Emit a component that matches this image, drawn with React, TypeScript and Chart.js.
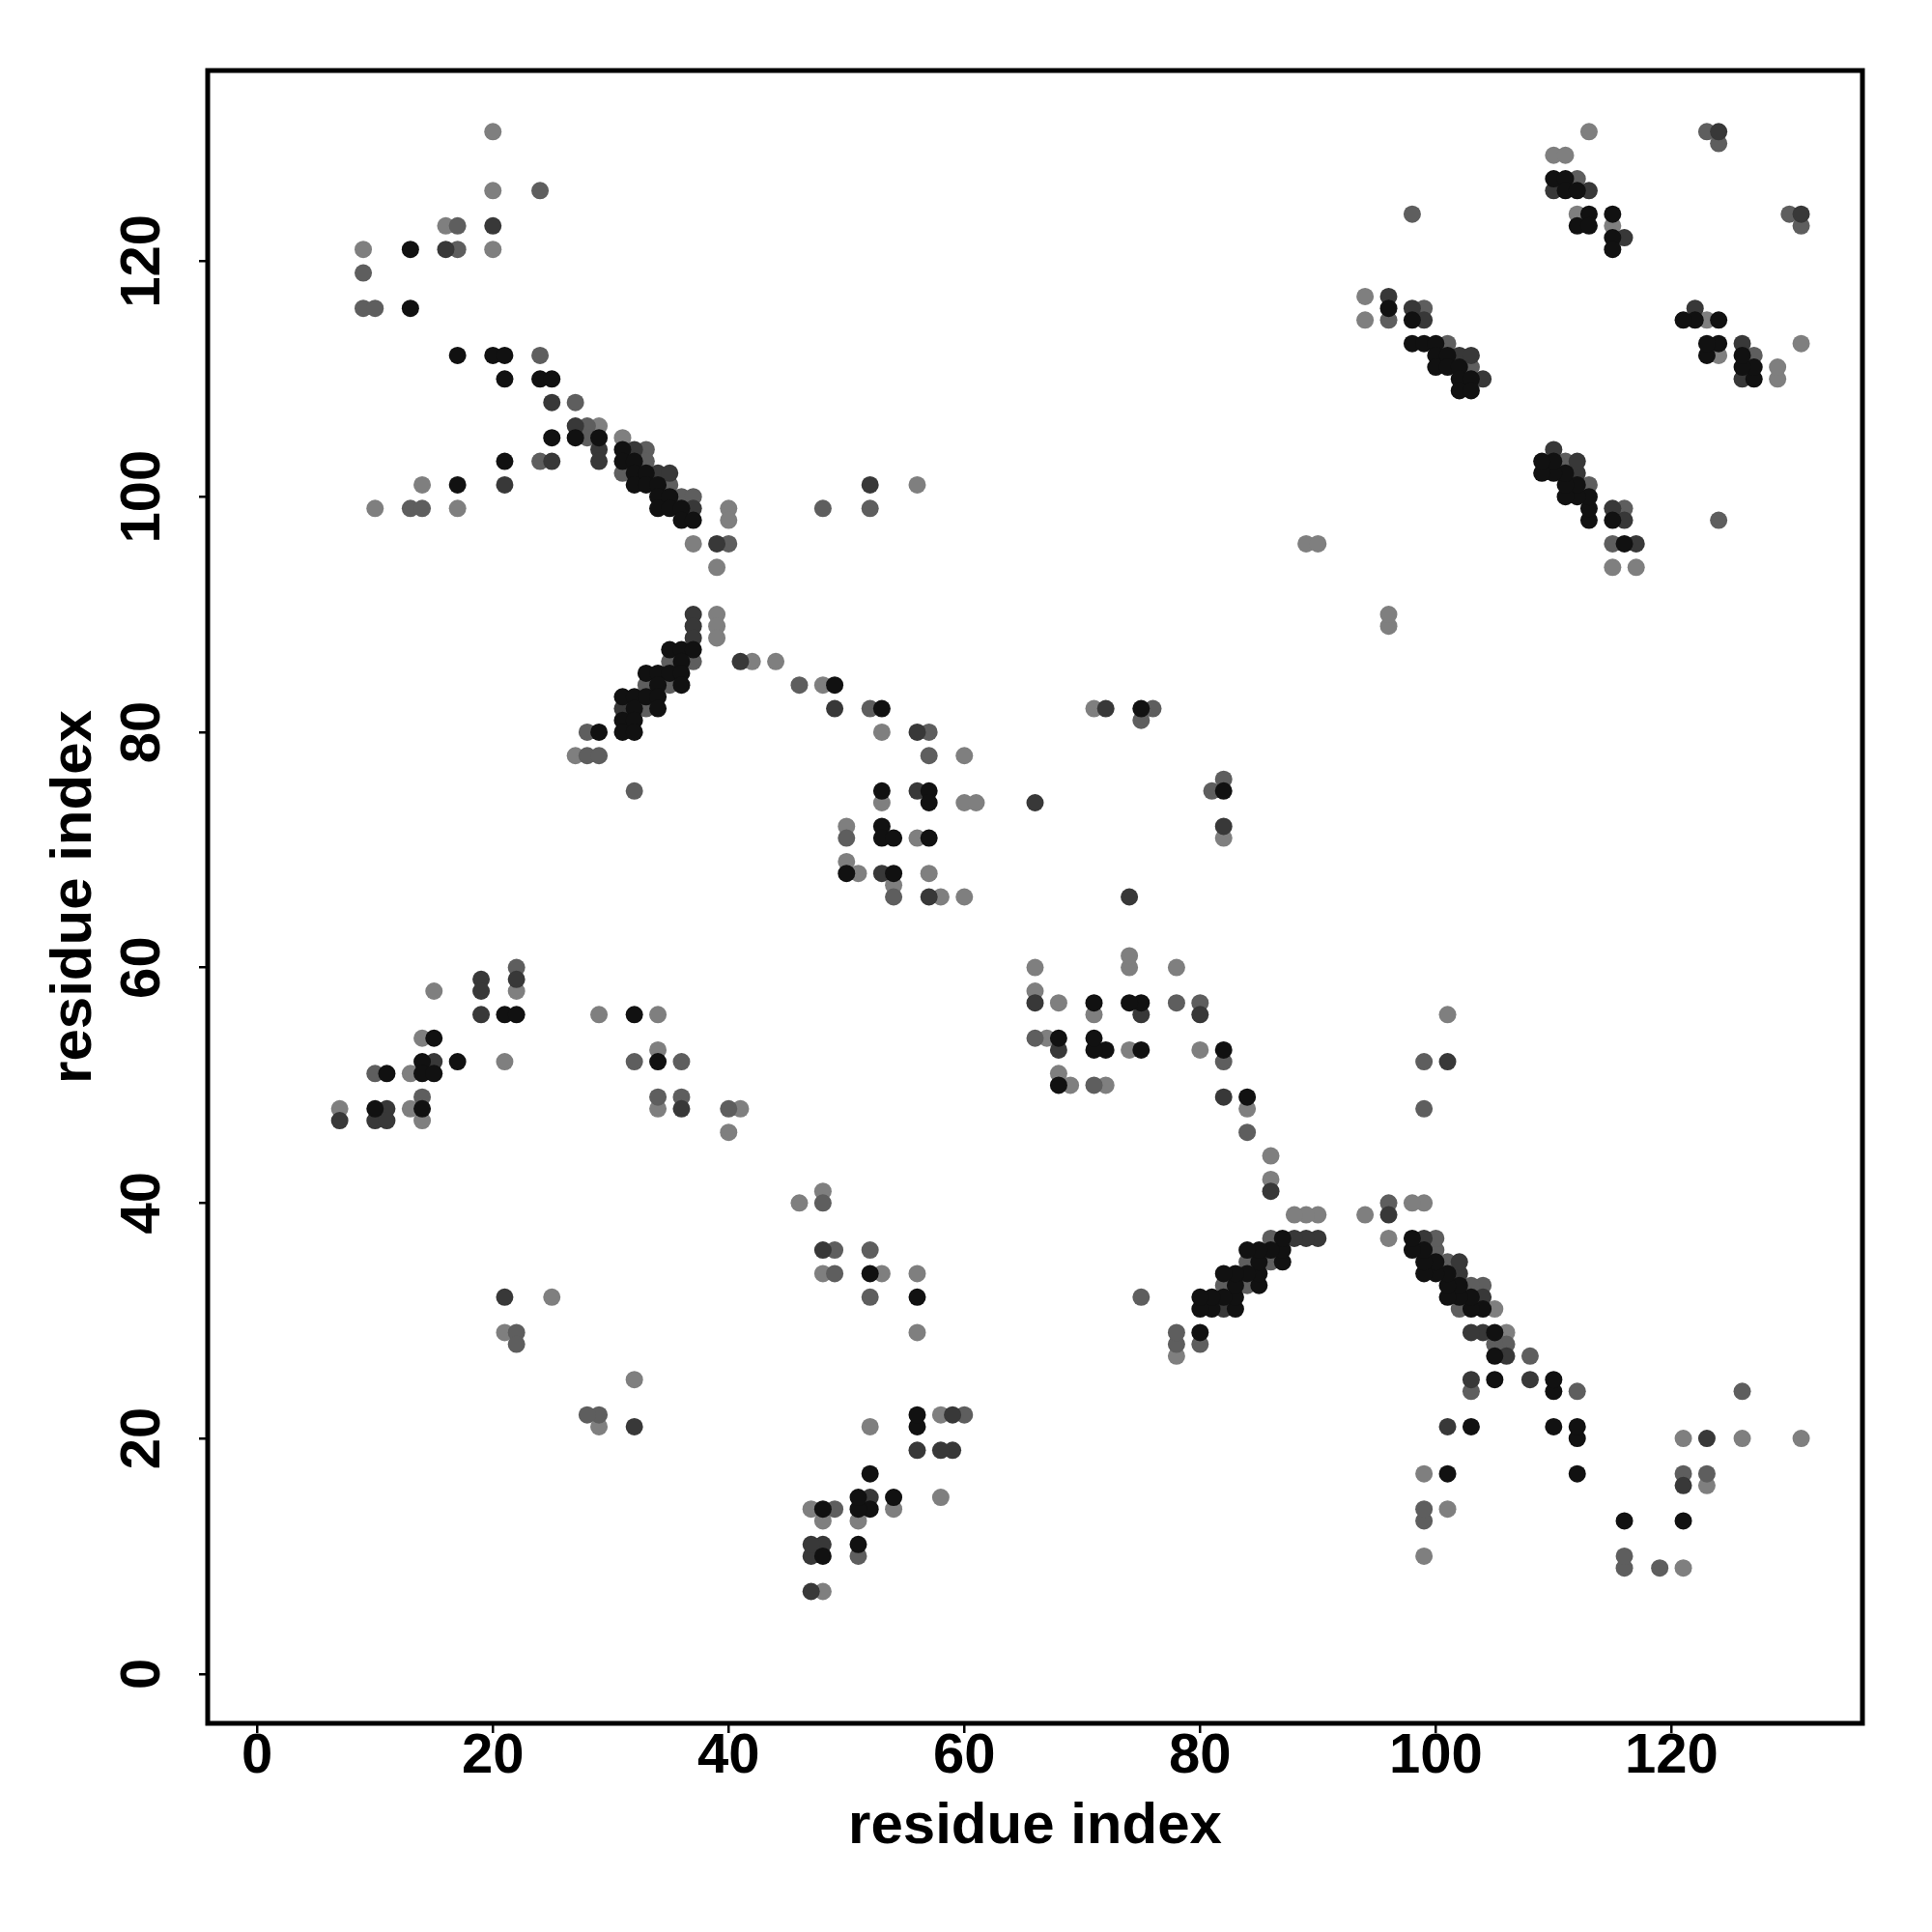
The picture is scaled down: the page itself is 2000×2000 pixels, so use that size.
import { useEffect, useRef } from "react";
import { Chart, registerables } from "chart.js";

Chart.register(...registerables);

// Axis settings
const axisTitle = "residue index";
const axisMin = -4.2;
const axisMax = 136.2;
const xTickValues = [0, 20, 40, 60, 80, 100, 120];
const yTickValues = [0, 20, 40, 60, 80, 100, 120];

// Contact map points, grouped by shade (darkest = strongest). Both halves of the symmetric map listed.
const level1X = [
  13,13,17,20,21,21,24,25,25,27,29,31,21,31,32,32,33,17,32,33,34,34,35,34,35,36,36,37,
  110,111,111,112,113,115,112,113,115,115,96,98,98,99,100,100,101,100,101,102,102,103,102,103,
  35,36,37,36,33,34,35,36,34,36,31,32,33,34,32,34,31,32,29,31,32,
  21,22,32,15,14,17,34,11,14,15,10,14,
  49,53,75,53,57,57,53,53,54,57,50,54,
  121,116,112,112,112,110,110,110,105,105,105,104,103,103,103,102,102,101,101,101,101,100,100,99,99,99,98,98,
  127,127,126,126,124,124,123,123,122,121,116,115,113,113,113,112,112,111,111,111,110,110,109,109,
  87,87,87,86,85,85,85,85,84,84,83,83,83,83,82,82,81,81,80,80,80,
  56,56,56,54,52,52,52,51,51,51,48,48,
  84,82,82,75,75,74,72,71,71,71,68,68,
];
const level1Y = [
  121,116,112,112,112,110,110,110,105,105,105,104,103,103,103,102,102,101,101,101,101,100,100,99,99,99,98,98,
  127,127,126,126,124,124,123,123,122,121,116,115,113,113,113,112,112,111,111,111,110,110,109,109,
  87,87,87,86,85,85,85,85,84,84,83,83,83,83,82,82,81,81,80,80,80,
  56,56,56,54,52,52,52,51,51,51,48,48,
  84,82,82,75,75,74,72,71,71,71,68,68,
  13,13,17,20,21,21,24,25,25,27,29,31,21,31,32,32,33,17,32,33,34,34,35,34,35,36,36,37,
  110,111,111,112,113,115,112,113,115,115,96,98,98,99,100,100,101,100,101,102,102,103,102,103,
  35,36,37,36,33,34,35,36,34,36,31,32,33,34,32,34,31,32,29,31,32,
  21,22,32,15,14,17,34,11,14,15,10,14,
  49,53,75,53,57,57,53,53,54,57,50,54,
];

const level2X = [
  20,16,25,27,29,32,25,29,34,35,21,37,39,37,37,52,124,110,113,116,96,98,99,102,103,104,
  37,41,31,19,22,19,19,15,11,36,7,10,11,49,72,56,56,66,53,57,21,
  123,121,108,106,104,104,103,103,102,102,101,99,96,90,89,101,131,126,126,122,117,116,115,112,112,110,
  88,86,82,59,59,58,56,52,48,48,47,47,47,82,82,80,75,74,68,66,32,
];
const level2Y = [
  123,121,108,106,104,104,103,103,102,102,101,99,96,90,89,101,131,126,126,122,117,116,115,112,112,110,
  88,86,82,59,59,58,56,52,48,48,47,47,47,82,82,80,75,74,68,66,32,
  20,16,25,27,29,32,25,29,34,35,21,37,39,37,37,52,124,110,113,116,96,98,99,102,103,104,
  37,41,31,19,22,19,19,15,11,36,7,10,11,49,72,56,56,66,53,57,21,
];

const level3X = [
  24,17,17,9,9,10,24,27,28,28,33,24,33,31,35,36,37,13,14,40,48,52,123,124,112,98,99,96,101,103,
  35,37,33,35,33,28,28,29,32,22,32,36,10,14,34,36,40,46,52,76,75,57,57,50,54,22,22,
  126,123,121,119,116,116,112,108,106,105,104,103,103,102,101,100,100,99,99,96,99,99,131,130,127,124,116,115,113,111,
  86,86,84,84,82,80,78,78,75,60,52,52,51,49,49,49,48,84,82,82,81,80,78,71,66,29,28,
];
const level3Y = [
  126,123,121,119,116,116,112,108,106,105,104,103,103,102,101,100,100,99,99,96,99,99,131,130,127,124,116,115,113,111,
  86,86,84,84,82,80,78,78,75,60,52,52,51,49,49,49,48,84,82,82,81,80,78,71,66,29,28,
  24,17,17,9,9,10,24,27,28,28,33,24,33,31,35,36,37,13,14,40,48,52,123,124,112,98,99,96,101,103,
  35,37,33,35,33,28,28,29,32,22,32,36,10,14,34,36,40,46,52,76,75,57,57,50,54,22,22,
];

const level4X = [
  20,20,16,9,20,29,31,14,10,17,40,40,37,39,39,39,56,89,90,113,110,111,112,115,94,94,
  39,42,27,15,22,29,34,14,34,21,13,7,13,34,41,14,40,44,48,71,53,60,53,60,61,50,56,50,51,57,54,58,60,25,21,
  131,126,123,121,121,106,105,101,99,99,99,98,96,94,90,89,101,96,96,131,129,129,124,123,117,115,
  88,86,78,58,58,56,56,54,53,52,51,48,48,48,48,47,46,86,84,82,80,78,74,74,74,72,71,69,68,68,67,66,66,32,29,
];
const level4Y = [
  131,126,123,121,121,106,105,101,99,99,99,98,96,94,90,89,101,96,96,131,129,129,124,123,117,115,
  88,86,78,58,58,56,56,54,53,52,51,48,48,48,48,47,46,86,84,82,80,78,74,74,74,72,71,69,68,68,67,66,66,32,29,
  20,20,16,9,20,29,31,14,10,17,40,40,37,39,39,39,56,89,90,113,110,111,112,115,94,94,
  39,42,27,15,22,29,34,14,34,21,13,7,13,34,41,14,40,44,48,71,53,60,53,60,61,50,56,50,51,57,54,58,60,25,21,
];

const levelNames = ["level 1", "level 2", "level 3", "level 4"];
const levelColors = ["#111111", "#383838", "#5e5e5e", "#7f7f7f"];

export default function App() {
  const canvasRef = useRef<HTMLCanvasElement | null>(null);

  useEffect(() => {
    document.body.style.margin = "0";
    const canvas = canvasRef.current;
    if (!canvas) return;

    const series: [number[], number[]][] = [
      [level1X, level1Y],
      [level2X, level2Y],
      [level3X, level3Y],
      [level4X, level4Y],
    ];

    const datasets = series.map(([xs, ys], k) => ({
      label: levelNames[k],
      data: xs.map((x, i) => ({ x, y: ys[i] })),
      backgroundColor: levelColors[k],
      borderWidth: 0,
      pointRadius: 9,
      pointHoverRadius: 9,
    }));

    const family = "'Liberation Sans', Arial, Helvetica, sans-serif";

    const boxPlugin = {
      id: "boxFrame",
      afterDraw(chart: any) {
        const { ctx, chartArea: a } = chart;
        ctx.save();
        ctx.strokeStyle = "#000";
        ctx.lineWidth = 5;
        ctx.strokeRect(a.left, a.top, a.right - a.left, a.bottom - a.top);
        ctx.restore();
      },
    };

    const chart = new Chart(canvas, {
      type: "scatter",
      data: { datasets },
      options: {
        responsive: false,
        animation: false,
        devicePixelRatio: 1,
        layout: { padding: { top: 73, right: 72, left: 0, bottom: 0 } },
        plugins: {
          legend: { display: false },
          tooltip: { enabled: false },
        },
        scales: {
          x: {
            type: "linear",
            position: "bottom",
            min: axisMin,
            max: axisMax,
            afterFit: (s: any) => {
              s.height = 216;
            },
            afterBuildTicks: (s: any) => {
              s.ticks = xTickValues.map((v) => ({ value: v }));
            },
            grid: {
              display: true,
              drawOnChartArea: false,
              drawTicks: true,
              tickLength: 10,
              tickWidth: 2.5,
              tickColor: "#000",
              lineWidth: 2.5,
              color: "#000",
            },
            border: { display: false },
            ticks: {
              color: "#000",
              font: { family, size: 58, weight: "bold", lineHeight: 1 },
              padding: -4,
              minRotation: 0,
              maxRotation: 0,
              autoSkip: false,
            },
            title: {
              display: true,
              text: axisTitle,
              color: "#000",
              font: { family, size: 60, weight: "bold", lineHeight: 1 },
              padding: { top: 0, bottom: 79 },
            },
          },
          y: {
            type: "linear",
            position: "left",
            min: axisMin,
            max: axisMax,
            afterFit: (s: any) => {
              s.width = 215;
            },
            afterBuildTicks: (s: any) => {
              s.ticks = yTickValues.map((v) => ({ value: v }));
            },
            grid: {
              display: true,
              drawOnChartArea: false,
              drawTicks: true,
              tickLength: 9,
              tickWidth: 2.5,
              tickColor: "#000",
              lineWidth: 2.5,
              color: "#000",
            },
            border: { display: false },
            ticks: {
              color: "#000",
              font: { family, size: 58, weight: "bold", lineHeight: 1 },
              padding: 8.6,
              minRotation: 90,
              maxRotation: 90,
              crossAlign: "center",
              autoSkip: false,
            },
            title: {
              display: true,
              text: axisTitle,
              color: "#000",
              font: { family, size: 60, weight: "bold", lineHeight: 1 },
              padding: { top: 47.5, bottom: 0 },
            },
          },
        },
      } as any,
      plugins: [boxPlugin],
    });

    return () => {
      chart.destroy();
    };
  }, []);

  return (
    <canvas
      ref={canvasRef}
      width={2000}
      height={2000}
      style={{ display: "block", width: "2000px", height: "2000px" }}
    />
  );
}
